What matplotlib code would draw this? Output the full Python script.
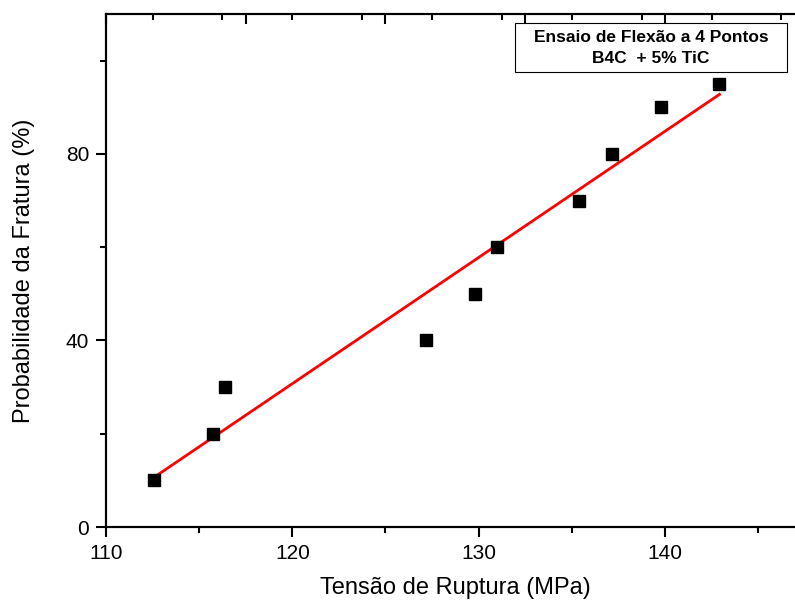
import numpy as np
import matplotlib
matplotlib.use('Agg')
import matplotlib.pyplot as plt
from matplotlib.patches import Rectangle
from matplotlib.ticker import MultipleLocator

# Dados
tensao = [112.57, 115.74, 116.38, 127.16, 129.79, 130.97, 135.36, 137.13, 139.76, 142.92]
probabilidade = [10, 20, 30, 40, 50, 60, 70, 80, 90, 95]
xticks = [110, 120, 130, 140]
yticks = [0, 40, 80]

plt.rcParams['font.family'] = ['Liberation Sans', 'DejaVu Sans']

fig = plt.figure(figsize=(7.95, 6.03), dpi=100)
ax = fig.add_axes([0.1333, 0.126, 0.879, 0.8507])

# Pontos e ajuste linear
ax.plot(tensao, probabilidade, 's', color='black', markersize=8, zorder=3)
a, b = np.polyfit(tensao, probabilidade, 1)
x_fit = np.array([min(tensao), max(tensao)])
ax.plot(x_fit, a * x_fit + b, color='red', linewidth=2, zorder=2)

ax.set_xlim(110, 147.5)
ax.set_ylim(0, 110)
ax.set_xticks(xticks)
ax.set_yticks(yticks)
ax.xaxis.set_minor_locator(MultipleLocator(5))
ax.yaxis.set_minor_locator(MultipleLocator(20))

for s in ax.spines.values():
    s.set_linewidth(1.5)
ax.spines['right'].set_visible(False)

ax.tick_params(which='major', direction='out', length=7, width=1.5, labelsize=15, pad=5)
ax.tick_params(which='minor', direction='out', length=4, width=1.5)
ax.tick_params(top=False, right=False)

ax.set_xlabel('Tensão de Ruptura (MPa)', fontsize=17, labelpad=10)
ax.set_ylabel('Probabilidade da Fratura (%)', fontsize=17, labelpad=22)

# Eixo superior (ticks para dentro)
ax2 = ax.twiny()
ax2.set_xlim(ax.get_xlim())
ax2.set_xticks([110, 117.5, 125, 132.5, 140, 147.5])
ax2.xaxis.set_minor_locator(MultipleLocator(3.75))
ax2.tick_params(which='major', direction='in', length=7, width=1.5, labeltop=False)
ax2.tick_params(which='minor', direction='in', length=4, width=1.5)
for s in ax2.spines.values():
    s.set_linewidth(1.5)
ax2.spines['right'].set_visible(False)

# Caixa de legenda
ax.add_patch(Rectangle((0.5854, 0.887), 0.3893, 0.0955, transform=ax.transAxes,
                       facecolor='white', edgecolor='black', linewidth=0.8, zorder=4))
ax.text(0.78, 0.9337, 'Ensaio de Flexão a 4 Pontos\nB4C  + 5% TiC', transform=ax.transAxes,
        ha='center', va='center', fontsize=12.5, fontweight='bold', linespacing=1.45, zorder=5)

fig.savefig('out.png', dpi=100)
